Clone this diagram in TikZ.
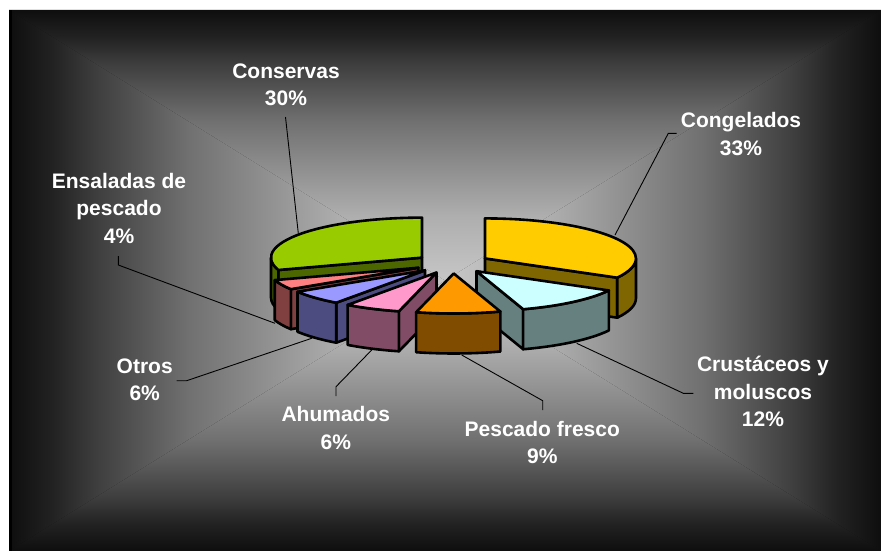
\documentclass[tikz,border=0pt]{standalone}
\usepackage{fontspec}
\setmainfont{Liberation Sans}
\usetikzlibrary{calc}
\definecolor{bgA}{RGB}{198,198,198}
\definecolor{bgB}{RGB}{174,174,174}
\definecolor{bgC}{RGB}{112,112,112}
\definecolor{bgD}{RGB}{62,62,62}
\definecolor{bgF}{RGB}{34,34,34}
\definecolor{bgE}{RGB}{14,14,14}
\definecolor{yTop}{HTML}{FFCC00}\definecolor{ySide}{HTML}{806600}
\definecolor{cTop}{HTML}{CCFFFF}\definecolor{cSide}{HTML}{668080}
\definecolor{oTop}{HTML}{FF9900}\definecolor{oSide}{HTML}{804C00}
\definecolor{pTop}{HTML}{FF99CC}\definecolor{pSide}{HTML}{804C66}
\definecolor{bTop}{HTML}{9999FF}\definecolor{bSide}{HTML}{4C4C80}
\definecolor{rTop}{HTML}{FF8080}\definecolor{rSide}{HTML}{804040}
\definecolor{gTop}{HTML}{99CC00}\definecolor{gSide}{HTML}{4C6600}
\pgfdeclareverticalshading{bgUpL}{100bp}{color(0bp)=(bgA); color(25bp)=(bgA); color(37bp)=(bgB); color(54.5bp)=(bgC); color(65bp)=(bgD); color(70bp)=(bgF); color(75bp)=(bgE); color(100bp)=(bgE)}
\pgfdeclareverticalshading{bgUpD}{100bp}{color(0bp)=(bgE); color(25bp)=(bgE); color(30bp)=(bgF); color(35bp)=(bgD); color(45.5bp)=(bgC); color(63bp)=(bgB); color(75bp)=(bgA); color(100bp)=(bgA)}
\pgfdeclarehorizontalshading{bgHL}{100bp}{color(0bp)=(bgA); color(25bp)=(bgA); color(37bp)=(bgB); color(54.5bp)=(bgC); color(65bp)=(bgD); color(70bp)=(bgF); color(75bp)=(bgE); color(100bp)=(bgE)}
\pgfdeclarehorizontalshading{bgHD}{100bp}{color(0bp)=(bgE); color(25bp)=(bgE); color(30bp)=(bgF); color(35bp)=(bgD); color(45.5bp)=(bgC); color(63bp)=(bgB); color(75bp)=(bgA); color(100bp)=(bgA)}
\tikzset{
  pie/.style={draw=black, line width=2.6pt, line join=round},
  lead/.style={draw=black, line width=0.9pt},
  lab/.style={text=white, font=\bfseries\fontsize{21}{27.5}\selectfont, align=center, inner sep=0pt, anchor=base}
}
% apex name, phi1, phi2, colour
\newcommand\slicetop[4]{\draw[pie, fill=#4] (#1) -- ($(#1)+(#2:151 and 40)$) arc[start angle=#2, end angle=#3, x radius=151, y radius=40] -- cycle;}
\newcommand\slicerim[4]{\draw[pie, fill=#4] ($(#1)+(#2:151 and 40)$) arc[start angle=#2, end angle=#3, x radius=151, y radius=40] -- ++(0,40) arc[start angle=#3, end angle=#2, x radius=151, y radius=40] -- cycle;}
\newcommand\slicecut[3]{\draw[pie, fill=#3] (#1) -- ($(#1)+(#2:151 and 40)$) -- ++(0,40) -- ($(#1)+(0,40)$) -- cycle;}
\newcommand\apexat[2]{\coordinate (#1) at ({452.5+37.7*sin(#2)},{263.5-0.265*37.7*cos(#2)});}
\begin{document}
\begin{tikzpicture}[x=1pt,y=-1pt]
\useasboundingbox (0,0) rectangle (881,551);
\fill[white] (0,0) rectangle (881,551);
\fill[bgE] (9,10) rectangle (881,551);
\shade[shading=bgUpL] (9,10) -- (881,10) -- (445,280.5) -- cycle;
\shade[shading=bgUpD] (9,551) -- (881,551) -- (445,280.5) -- cycle;
\shade[shading=bgHD] (9,10) -- (9,551) -- (445,280.5) -- cycle;
\shade[shading=bgHL] (881,10) -- (881,551) -- (445,280.5) -- cycle;
\fill[black] (9,10) rectangle (12,551);

% labels (anchored at the baseline of the last line)
\node[lab] (conservas) at (286,106) {Conservas\\30\%};
\node[lab] (congelados) at (741,155) {Congelados\\33\%};
\node[lab] (ensaladas) at (119,243.3) {Ensaladas de\\pescado\\4\%};
\node[lab] (otros) at (144.7,400.7) {Otros\\6\%};
\node[lab] (ahumados) at (335.8,449.3) {Ahumados\\6\%};
\node[lab] (pescado) at (542.3,463.5) {Pescado fresco\\9\%};
\node[lab] (crust) at (763,426.7) {Crustáceos y\\moluscos\\12\%};

% leader lines
\coordinate (lcon) at (285.5,117);   \coordinate (econ) at (298.3,233.3);
\coordinate (lcg) at (676.7,133.3);  \coordinate (kcg) at (668.3,133.3); \coordinate (ecg) at (615,235);
\coordinate (lens) at (118.3,256);   \coordinate (kens) at (118.3,265); \coordinate (eens) at (275,323.3);
\coordinate (lotr) at (176.7,380.7); \coordinate (kotr) at (186.7,380.7); \coordinate (eotr) at (311.7,338.3);
\coordinate (lahu) at (336,396);     \coordinate (kahu) at (336,386.7); \coordinate (eahu) at (371.7,350);
\coordinate (lpes) at (542.7,410);   \coordinate (kpes) at (542.7,400.7); \coordinate (epes) at (461.7,355);
\coordinate (lcru) at (693.3,393.3); \coordinate (kcru) at (683.3,393.3); \coordinate (ecru) at (576.7,343.3);
\draw[lead] (lcon) -- (econ);
\draw[lead] (lcg) -- (kcg) -- (ecg);
\draw[lead] (lens) -- (kens) -- (eens);
\draw[lead] (lotr) -- (kotr) -- (eotr);
\draw[lead] (lahu) -- (kahu) -- (eahu);
\draw[lead] (lpes) -- (kpes) -- (epes);
\draw[lead] (lcru) -- (kcru) -- (ecru);

% apexes (bisector angles, clockwise from back)
\apexat{Y}{59.4}
\apexat{Cc}{140.4}
\apexat{O}{178.2}
\apexat{P}{205.2}
\apexat{B}{226.8}
\apexat{Rr}{244.8}
\apexat{G}{306}

% Conservas
\slicecut{G}{162}{gSide}
\slicerim{G}{162}{180}{gSide}
\slicetop{G}{162}{270}{gTop}
% Congelados
\slicecut{Y}{28.8}{ySide}
\slicerim{Y}{0}{28.8}{ySide}
\slicetop{Y}{-90}{28.8}{yTop}
% Ensaladas
\slicecut{Rr}{147.6}{rSide}
\slicerim{Rr}{147.6}{162}{rSide}
\slicetop{Rr}{147.6}{162}{rTop}
% Otros
\slicecut{B}{126}{bSide}
\slicerim{B}{126}{147.6}{bSide}
\slicetop{B}{126}{147.6}{bTop}
% Crustaceos
\slicecut{Cc}{72}{cSide}
\slicerim{Cc}{28.8}{72}{cSide}
\slicetop{Cc}{28.8}{72}{cTop}
% Ahumados
\slicecut{P}{104.4}{pSide}
\slicerim{P}{104.4}{126}{pSide}
\slicetop{P}{104.4}{126}{pTop}
% Pescado fresco
\slicerim{O}{72}{104.4}{oSide}
\slicetop{O}{72}{104.4}{oTop}
\end{tikzpicture}
\end{document}
